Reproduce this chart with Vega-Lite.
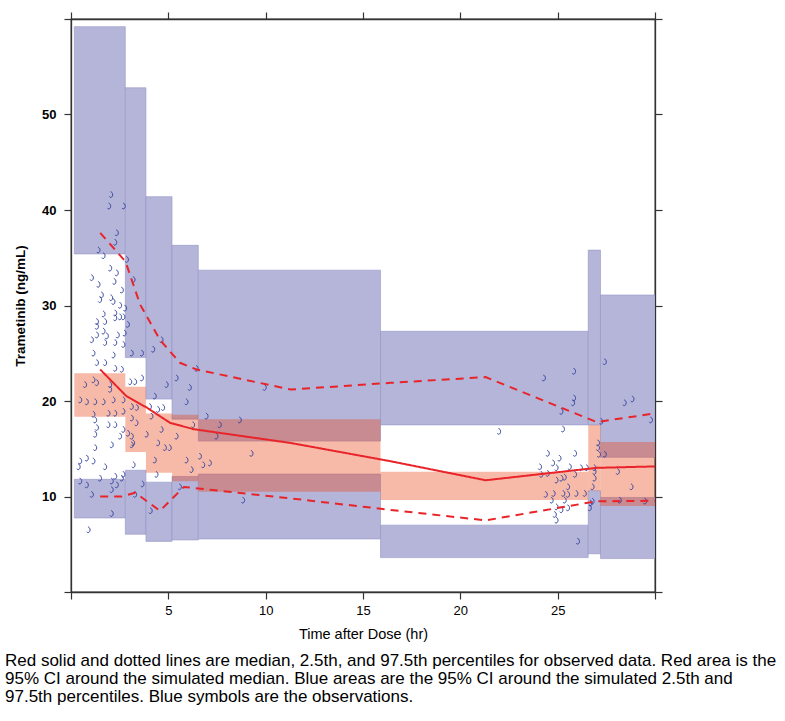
{
  "$schema": "https://vega.github.io/schema/vega-lite/v6.json",
  "autosize": {"type": "none"},
  "width": 584,
  "height": 573,
  "padding": {"left": 71, "top": 19, "right": 130, "bottom": 129},
  "background": "white",
  "config": {"view": {"stroke": "#333333", "strokeWidth": 1.3}},
  "title": {
    "text": ["Red solid and dotted lines are median, 2.5th, and 97.5th percentiles for observed data. Red area is the", "95% CI around the simulated median. Blue areas are the 95% CI around the simulated 2.5th and", "97.5th percentiles. Blue symbols are the observations."],
    "orient": "bottom", "anchor": "start", "frame": "group", "dx": -66, "offset": 12,
    "font": "Liberation Sans", "fontSize": 17, "fontWeight": "normal", "lineHeight": 18.2, "color": "#000000"
  },
  "datasets": {
    "bands": [
      {"x1": 0.17, "x2": 2.79, "lo": 35.4, "hi": 59.2, "type": "sim"},
      {"x1": 0.17, "x2": 2.79, "lo": 7.75, "hi": 11.8, "type": "sim"},
      {"x1": 2.79, "x2": 3.85, "lo": 24.55, "hi": 52.8, "type": "sim"},
      {"x1": 2.79, "x2": 3.85, "lo": 6.05, "hi": 12.75, "type": "sim"},
      {"x1": 3.85, "x2": 5.19, "lo": 20.2, "hi": 41.4, "type": "sim"},
      {"x1": 3.85, "x2": 5.19, "lo": 5.3, "hi": 11.5, "type": "sim"},
      {"x1": 5.19, "x2": 6.54, "lo": 18.1, "hi": 36.3, "type": "sim"},
      {"x1": 5.19, "x2": 6.54, "lo": 5.45, "hi": 12.1, "type": "sim"},
      {"x1": 6.54, "x2": 15.9, "lo": 15.8, "hi": 33.7, "type": "sim"},
      {"x1": 6.54, "x2": 15.9, "lo": 5.55, "hi": 12.35, "type": "sim"},
      {"x1": 15.9, "x2": 26.57, "lo": 17.5, "hi": 27.3, "type": "sim"},
      {"x1": 15.9, "x2": 26.57, "lo": 3.6, "hi": 7.0, "type": "sim"},
      {"x1": 26.57, "x2": 27.2, "lo": 17.5, "hi": 35.8, "type": "sim"},
      {"x1": 26.57, "x2": 27.2, "lo": 4.0, "hi": 10.6, "type": "sim"},
      {"x1": 27.2, "x2": 30, "lo": 14.1, "hi": 31.1, "type": "sim"},
      {"x1": 27.2, "x2": 30, "lo": 3.5, "hi": 9.9, "type": "sim"}
    ],
    "medband": [
      {"x1": 0.17, "x2": 2.79, "lo": 18.35, "hi": 22.9},
      {"x1": 2.79, "x2": 3.85, "lo": 14.65, "hi": 21.5},
      {"x1": 3.85, "x2": 5.19, "lo": 12.5, "hi": 18.7},
      {"x1": 5.19, "x2": 6.54, "lo": 11.6, "hi": 18.55},
      {"x1": 6.54, "x2": 15.9, "lo": 10.5, "hi": 18.1},
      {"x1": 15.9, "x2": 26.57, "lo": 9.64, "hi": 12.6},
      {"x1": 26.57, "x2": 27.2, "lo": 10.6, "hi": 17.5},
      {"x1": 27.2, "x2": 30, "lo": 9.0, "hi": 15.7}
    ],
    "obs": [
      {"t": 2.07, "c": 41.6}, {"t": 1.97, "c": 40.4}, {"t": 2.72, "c": 40.4}, {"t": 2.36, "c": 37.6}, {"t": 2.28, "c": 36.6},
      {"t": 1.42, "c": 35.8}, {"t": 1.68, "c": 35.2}, {"t": 2.88, "c": 34.8}, {"t": 2.02, "c": 33.9}, {"t": 2.36, "c": 33.4},
      {"t": 1.08, "c": 32.9}, {"t": 2.24, "c": 32.5}, {"t": 3.22, "c": 32.7}, {"t": 1.42, "c": 32.2}, {"t": 2.62, "c": 31.6},
      {"t": 1.59, "c": 31.1}, {"t": 1.5, "c": 30.6}, {"t": 2.07, "c": 30.8}, {"t": 2.19, "c": 30.4}, {"t": 2.53, "c": 30.0},
      {"t": 2.79, "c": 29.7}, {"t": 1.68, "c": 29.1}, {"t": 2.28, "c": 29.2}, {"t": 2.28, "c": 28.7}, {"t": 2.53, "c": 28.8},
      {"t": 2.7, "c": 28.8}, {"t": 2.93, "c": 28.0}, {"t": 1.34, "c": 28.3}, {"t": 1.76, "c": 28.3}, {"t": 1.34, "c": 27.8},
      {"t": 1.68, "c": 27.3}, {"t": 1.34, "c": 26.9}, {"t": 2.41, "c": 26.9}, {"t": 2.76, "c": 27.1}, {"t": 1.85, "c": 26.8},
      {"t": 1.08, "c": 26.4}, {"t": 1.76, "c": 26.1}, {"t": 2.28, "c": 26.1}, {"t": 2.7, "c": 25.9}, {"t": 1.16, "c": 25.0},
      {"t": 2.19, "c": 24.8}, {"t": 3.13, "c": 25.0}, {"t": 3.65, "c": 25.0}, {"t": 1.34, "c": 24.0}, {"t": 1.76, "c": 24.0},
      {"t": 2.28, "c": 23.4}, {"t": 2.62, "c": 23.3}, {"t": 3.05, "c": 22.0}, {"t": 3.3, "c": 22.0}, {"t": 3.65, "c": 22.4},
      {"t": 0.73, "c": 21.7}, {"t": 1.16, "c": 22.2}, {"t": 1.34, "c": 21.9}, {"t": 2.02, "c": 21.7}, {"t": 2.02, "c": 21.2},
      {"t": 0.48, "c": 20.1}, {"t": 0.82, "c": 19.9}, {"t": 1.25, "c": 19.9}, {"t": 1.68, "c": 19.9}, {"t": 2.19, "c": 20.1},
      {"t": 2.7, "c": 20.1}, {"t": 3.13, "c": 19.4}, {"t": 3.39, "c": 19.3}, {"t": 1.16, "c": 18.6}, {"t": 1.93, "c": 18.7},
      {"t": 2.28, "c": 18.7}, {"t": 2.7, "c": 18.9}, {"t": 1.25, "c": 18.0}, {"t": 3.13, "c": 18.2}, {"t": 1.93, "c": 17.5},
      {"t": 2.28, "c": 17.5}, {"t": 2.7, "c": 17.0}, {"t": 1.34, "c": 17.2}, {"t": 1.25, "c": 16.5}, {"t": 2.53, "c": 16.3},
      {"t": 3.13, "c": 16.3}, {"t": 1.25, "c": 15.1}, {"t": 2.1, "c": 15.4}, {"t": 3.13, "c": 15.4}, {"t": 0.48, "c": 13.7},
      {"t": 0.82, "c": 14.0}, {"t": 1.16, "c": 13.7}, {"t": 1.76, "c": 13.1}, {"t": 2.28, "c": 12.1}, {"t": 2.7, "c": 12.3},
      {"t": 3.22, "c": 13.3}, {"t": 0.4, "c": 13.1}, {"t": 0.48, "c": 11.6}, {"t": 0.82, "c": 11.2}, {"t": 1.5, "c": 11.9},
      {"t": 2.1, "c": 11.6}, {"t": 2.62, "c": 11.9}, {"t": 2.36, "c": 11.2}, {"t": 1.08, "c": 10.2}, {"t": 2.1, "c": 10.7},
      {"t": 3.68, "c": 11.3}, {"t": 4.1, "c": 8.5}, {"t": 2.1, "c": 8.2}, {"t": 0.91, "c": 6.5}, {"t": 3.3, "c": 10.2},
      {"t": 3.37, "c": 17.7}, {"t": 2.94, "c": 16.6}, {"t": 3.2, "c": 15.6},
      {"t": 4.66, "c": 26.4}, {"t": 4.23, "c": 25.4}, {"t": 6.46, "c": 23.4}, {"t": 5.43, "c": 22.4}, {"t": 4.92, "c": 21.7},
      {"t": 6.11, "c": 21.4}, {"t": 9.96, "c": 21.4}, {"t": 4.31, "c": 20.5}, {"t": 5.94, "c": 19.9}, {"t": 4.06, "c": 19.4},
      {"t": 4.74, "c": 19.3}, {"t": 4.48, "c": 19.1}, {"t": 4.14, "c": 18.4}, {"t": 6.97, "c": 18.4}, {"t": 6.28, "c": 17.5},
      {"t": 7.65, "c": 17.5}, {"t": 8.68, "c": 18.0}, {"t": 4.66, "c": 17.0}, {"t": 3.89, "c": 16.5}, {"t": 5.43, "c": 16.3},
      {"t": 7.48, "c": 16.3}, {"t": 4.48, "c": 15.6}, {"t": 4.83, "c": 15.1}, {"t": 5.08, "c": 15.1}, {"t": 9.28, "c": 14.5},
      {"t": 6.63, "c": 14.2}, {"t": 5.94, "c": 13.8}, {"t": 4.31, "c": 13.8}, {"t": 6.8, "c": 13.3}, {"t": 7.14, "c": 13.5},
      {"t": 6.2, "c": 12.8}, {"t": 5.6, "c": 11.0}, {"t": 8.85, "c": 9.6}, {"t": 4.4, "c": 12.3},
      {"t": 22.0, "c": 16.8},
      {"t": 27.43, "c": 24.1}, {"t": 25.85, "c": 23.1}, {"t": 24.3, "c": 22.4}, {"t": 25.85, "c": 20.3}, {"t": 25.8, "c": 19.8},
      {"t": 28.45, "c": 19.8}, {"t": 28.85, "c": 20.2}, {"t": 29.8, "c": 18.0}, {"t": 27.25, "c": 17.85}, {"t": 25.28, "c": 17.05},
      {"t": 25.2, "c": 18.9}, {"t": 27.08, "c": 15.6}, {"t": 27.08, "c": 15.1}, {"t": 27.13, "c": 14.4}, {"t": 27.43, "c": 14.4},
      {"t": 24.5, "c": 14.5}, {"t": 25.1, "c": 14.0}, {"t": 25.9, "c": 14.5}, {"t": 24.1, "c": 13.1}, {"t": 24.77, "c": 13.5},
      {"t": 24.95, "c": 13.0}, {"t": 25.63, "c": 13.1}, {"t": 26.2, "c": 13.0}, {"t": 26.5, "c": 13.0}, {"t": 26.9, "c": 13.0},
      {"t": 28.1, "c": 12.6}, {"t": 24.17, "c": 12.3}, {"t": 24.5, "c": 12.4}, {"t": 25.9, "c": 12.3}, {"t": 26.9, "c": 12.6},
      {"t": 26.9, "c": 11.9}, {"t": 24.95, "c": 11.7}, {"t": 25.2, "c": 11.9}, {"t": 25.37, "c": 12.0}, {"t": 26.8, "c": 11.0},
      {"t": 28.8, "c": 11.0}, {"t": 25.54, "c": 11.0}, {"t": 24.4, "c": 10.2}, {"t": 24.8, "c": 10.3}, {"t": 25.3, "c": 10.3},
      {"t": 25.54, "c": 10.2}, {"t": 25.97, "c": 10.3}, {"t": 26.4, "c": 10.3}, {"t": 24.7, "c": 9.6}, {"t": 25.37, "c": 9.6},
      {"t": 24.95, "c": 8.9}, {"t": 25.2, "c": 8.6}, {"t": 25.54, "c": 8.8}, {"t": 24.86, "c": 8.1}, {"t": 24.95, "c": 7.5},
      {"t": 26.66, "c": 8.8}, {"t": 26.7, "c": 9.3}, {"t": 26.8, "c": 9.5}, {"t": 28.2, "c": 9.6}, {"t": 29.5, "c": 9.5},
      {"t": 26.05, "c": 5.3}
    ],
    "pct": [
      {"t": 1.5, "v": 23.3, "q": "median"}, {"t": 2.85, "v": 20.5, "q": "median"}, {"t": 3.9, "v": 19.3, "q": "median"},
      {"t": 5.1, "v": 17.7, "q": "median"}, {"t": 6.3, "v": 17.05, "q": "median"}, {"t": 11.3, "v": 15.6, "q": "median"},
      {"t": 16.4, "v": 13.7, "q": "median"}, {"t": 21.3, "v": 11.7, "q": "median"}, {"t": 27.0, "v": 13.0, "q": "median"},
      {"t": 30.0, "v": 13.15, "q": "median"},
      {"t": 1.5, "v": 37.6, "q": "p975"}, {"t": 2.8, "v": 34.6, "q": "p975"}, {"t": 3.55, "v": 30.1, "q": "p975"},
      {"t": 4.57, "v": 26.4, "q": "p975"}, {"t": 5.6, "v": 24.0, "q": "p975"}, {"t": 6.45, "v": 23.3, "q": "p975"},
      {"t": 11.3, "v": 21.2, "q": "p975"}, {"t": 16.4, "v": 21.9, "q": "p975"}, {"t": 21.3, "v": 22.5, "q": "p975"},
      {"t": 27.0, "v": 17.8, "q": "p975"}, {"t": 30.0, "v": 18.7, "q": "p975"},
      {"t": 1.5, "v": 10.0, "q": "p025"}, {"t": 2.6, "v": 10.0, "q": "p025"}, {"t": 3.3, "v": 10.4, "q": "p025"},
      {"t": 4.57, "v": 8.5, "q": "p025"}, {"t": 5.8, "v": 11.0, "q": "p025"}, {"t": 11.3, "v": 9.8, "q": "p025"},
      {"t": 16.4, "v": 8.6, "q": "p025"}, {"t": 21.3, "v": 7.5, "q": "p025"}, {"t": 27.0, "v": 9.5, "q": "p025"},
      {"t": 30.0, "v": 9.55, "q": "p025"}
    ]
  },
  "resolve": {"axis": {"x": "independent", "y": "independent"}},
  "layer": [
    {
      "data": {"name": "bands"},
      "mark": {"type": "rect", "fill": "#b5b5d9", "stroke": "#8f8fc6", "strokeWidth": 0.8, "strokeOpacity": 0.7, "clip": true},
      "encoding": {
        "x": {"field": "x1", "type": "quantitative", "scale": {"domain": [0, 30], "nice": false, "zero": false},
          "axis": {"orient": "bottom", "values": [0, 5, 10, 15, 20, 25, 30], "labelExpr": "datum.value == 0 || datum.value == 30 ? '' : datum.label",
            "grid": false, "tickSize": 7, "tickColor": "#333333", "tickWidth": 1.2, "domainColor": "#333333", "domainWidth": 1.3,
            "labelFont": "Liberation Sans Narrow, Liberation Sans", "labelFontSize": 13, "labelColor": "#000000", "labelPadding": 5,
            "title": "Time after Dose (hr)", "titleFont": "Liberation Sans Narrow, Liberation Sans", "titleFontSize": 14.5, "titleFontWeight": "normal", "titleColor": "#000000", "titlePadding": 10}},
        "x2": {"field": "x2"},
        "y": {"field": "lo", "type": "quantitative", "scale": {"domain": [0, 60], "nice": false, "zero": false},
          "axis": {"orient": "left", "values": [0, 10, 20, 30, 40, 50, 60], "labelExpr": "datum.value == 0 || datum.value == 60 ? '' : datum.label",
            "grid": false, "tickSize": 7, "tickColor": "#333333", "tickWidth": 1.2, "domainColor": "#333333", "domainWidth": 1.3,
            "labelFont": "Liberation Sans Narrow, Liberation Sans", "labelFontSize": 13, "labelFontWeight": "bold", "labelColor": "#000000", "labelPadding": 8,
            "title": "Trametinib (ng/mL)", "titleFont": "Liberation Sans", "titleFontSize": 13.5, "titleFontWeight": "bold", "titleColor": "#000000", "titlePadding": 14}},
        "y2": {"field": "hi"}
      }
    },
    {
      "data": {"name": "medband"},
      "mark": {"type": "rect", "fill": "#ea4316", "fillOpacity": 0.37, "clip": true},
      "encoding": {
        "x": {"field": "x1", "type": "quantitative",
          "axis": {"orient": "top", "values": [0, 5, 10, 15, 20, 25, 30], "labels": false, "grid": false, "tickSize": 7, "tickColor": "#333333", "tickWidth": 1.2, "domainColor": "#333333", "domainWidth": 1.3, "title": null}},
        "x2": {"field": "x2"},
        "y": {"field": "lo", "type": "quantitative",
          "axis": {"orient": "right", "values": [0, 10, 20, 30, 40, 50, 60], "labels": false, "grid": false, "tickSize": 7, "tickColor": "#333333", "tickWidth": 1.2, "domainColor": "#333333", "domainWidth": 1.3, "title": null}},
        "y2": {"field": "hi"}
      }
    },
    {
      "data": {"name": "obs"},
      "mark": {"type": "point", "shape": "M -0.25,-1 C 0.55,-0.85 0.65,0.35 0.1,0.8 C -0.2,1 -0.5,0.9 -0.6,0.6", "filled": false, "stroke": "#33449f", "strokeWidth": 1, "size": 36, "opacity": 1},
      "encoding": {
        "x": {"field": "t", "type": "quantitative", "axis": null},
        "y": {"field": "c", "type": "quantitative", "axis": null}
      }
    },
    {
      "data": {"name": "pct"},
      "mark": {"type": "line", "color": "#e8242a", "strokeWidth": 2, "clip": true},
      "encoding": {
        "x": {"field": "t", "type": "quantitative", "axis": null},
        "y": {"field": "v", "type": "quantitative", "axis": null},
        "detail": {"field": "q"},
        "strokeDash": {"field": "q", "type": "nominal", "scale": {"domain": ["median", "p025", "p975"], "range": [[1, 0], [8, 6], [8, 6]]}, "legend": null}
      }
    }
  ]
}
